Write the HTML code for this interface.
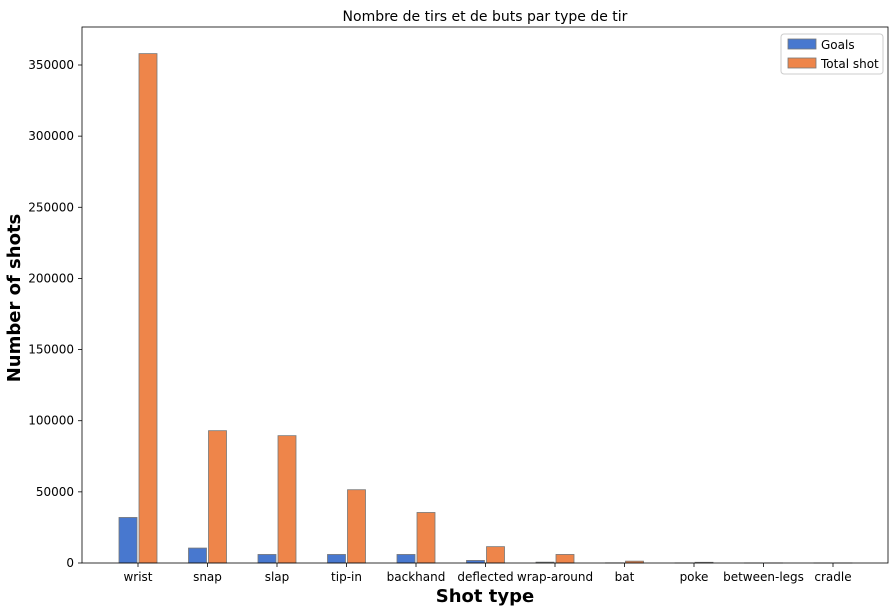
<!DOCTYPE html>
<html><head><meta charset="utf-8"><style>
body{margin:0;background:#fff;font-family:"Liberation Sans","DejaVu Sans",sans-serif}
</style></head><body>
<svg id="chart" width="892" height="611" xmlns="http://www.w3.org/2000/svg" font-family="'DejaVu Sans','Liberation Sans',sans-serif"></svg>
<script>
const categories=["wrist","snap","slap","tip-in","backhand","deflected","wrap-around","bat","poke","between-legs","cradle"];
const goals=[32000,10500,6000,6000,6000,1800,600,100,50,10,5];
const totals=[358000,93000,89500,51500,35500,11500,6000,1300,500,30,20];
const yTicks=[0,50000,100000,150000,200000,250000,300000,350000];
const L=82,R=888,T=27,B=563;
const y=v=>B-v*(498/350000);
const x=i=>138+i*69.5;
const svg=document.getElementById('chart');
const NS="http://www.w3.org/2000/svg";
function mk(tag,attrs,parent){const e=document.createElementNS(NS,tag);for(const k in attrs)e.setAttribute(k,attrs[k]);(parent||svg).appendChild(e);return e;}
const bars=mk('g',{});


categories.forEach((c,i)=>{
 const g=mk('rect',{x:x(i)-19,y:y(goals[i]),width:18,height:B-y(goals[i]),fill:'#4878cf',stroke:'#777','stroke-width':0.8},bars);
 
 
 const t=mk('rect',{x:x(i)+1,y:y(totals[i]),width:18,height:B-y(totals[i]),fill:'#ee854a',stroke:'#777','stroke-width':0.8},bars);
 
 
 mk('line',{x1:x(i),x2:x(i),y1:B,y2:B+4,stroke:'#000','stroke-width':0.8});
 const lb=mk('text',{x:x(i),y:B+18,'text-anchor':'middle','font-size':12},null);lb.textContent=c;
 
 
});
yTicks.forEach(v=>{
 mk('line',{x1:L-4,x2:L,y1:y(v),y2:y(v),stroke:'#000','stroke-width':0.8});
 const t=mk('text',{x:L-8,y:y(v)+4,'text-anchor':'end','font-size':12});t.textContent=v;
 
 
});
const frame=mk('rect',{x:L,y:T,width:R-L,height:B-T,fill:'none',stroke:'#000','stroke-width':0.8});


const title=mk('text',{x:485,y:21,'text-anchor':'middle','font-size':14});title.textContent="Nombre de tirs et de buts par type de tir";


const xt=mk('text',{x:485,y:602,'text-anchor':'middle','font-size':18,'font-weight':'bold'});xt.textContent="Shot type";


const yt=mk('text',{x:20,y:298,'text-anchor':'middle','font-size':18,'font-weight':'bold',transform:'rotate(-90 20 298)'});yt.textContent="Number of shots";


const lg=mk('g',{});


mk('rect',{x:781,y:34,width:102,height:40,rx:3,fill:'#fff',stroke:'#ccc'},lg);
[['Goals','#4878cf'],['Total shot','#ee854a']].forEach((d,i)=>{
 const s=mk('rect',{x:788,y:39+i*19,width:28,height:10,fill:d[1],stroke:'#777','stroke-width':0.8},lg);
 
 
 const t=mk('text',{x:821,y:49+i*19,'font-size':12},lg);t.textContent=d[0];
 
 
});
</script>
</body></html>
